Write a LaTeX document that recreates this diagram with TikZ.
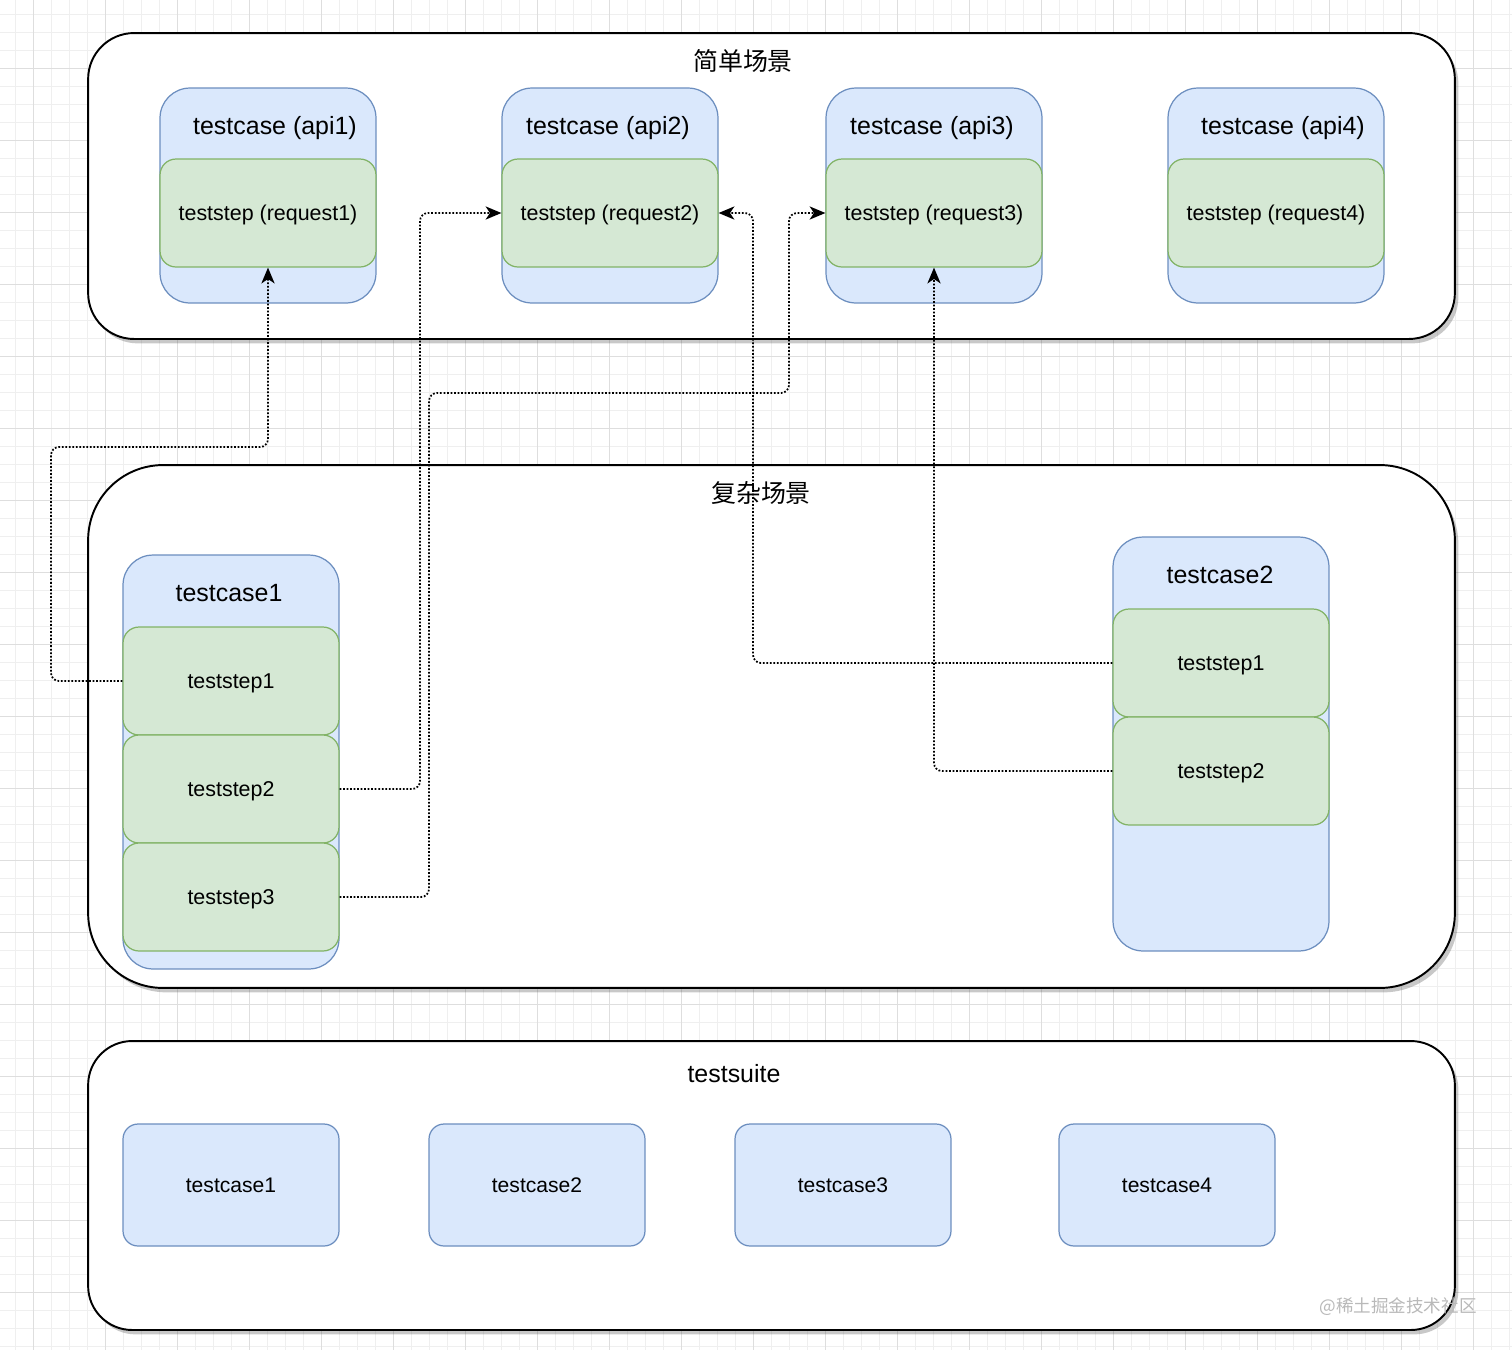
\documentclass[tikz,border=0pt]{standalone}
\usepackage{fontspec}
\setmainfont{Liberation Sans}
\newfontfamily\cjk{Noto Sans CJK SC}
\usetikzlibrary{arrows.meta,shadows}
\definecolor{bluefill}{HTML}{DAE8FC}
\definecolor{bluedraw}{HTML}{6C8EBF}
\definecolor{greenfill}{HTML}{D5E8D4}
\definecolor{greendraw}{HTML}{82B366}
\definecolor{gridminor}{HTML}{EFEFEF}
\definecolor{gridmajor}{HTML}{DEDEDE}
\begin{document}
\begin{tikzpicture}[x=0.02cm,y=-0.02cm,
  container/.style={draw=black, line width=1.1pt, fill=white, rectangle, inner sep=0pt,
    minimum width=27.34cm,
    drop shadow={shadow xshift=2pt, shadow yshift=-2.5pt, opacity=0.3, fill=black!70}},
  casebox/.style={draw=bluedraw, line width=0.7pt, fill=bluefill, rectangle, inner sep=0pt,
    minimum width=4.32cm, text depth=0pt},
  stepbox/.style={draw=greendraw, line width=0.7pt, fill=greenfill, rectangle,
    rounded corners=0.32cm, inner sep=0pt, minimum width=4.32cm, minimum height=2.16cm,
    font=\fontsize{12.2}{14}\selectfont, text depth=0pt},
  title/.style={font=\fontsize{14.2}{17}\selectfont, inner sep=0pt, text depth=0pt},
  cjktitle/.style={font=\cjk\fontsize{14.2}{17}\selectfont, inner sep=0pt},
  conn/.style={draw=black, line width=1pt, dash pattern=on 1pt off 1pt,
    rounded corners=0.16cm, -{Stealth[length=9pt,width=7.5pt,inset=2.5pt]}}
]
% background and grid
\fill[white, use as bounding box] (0,0) rectangle (1512,1350);
\foreach \k in {0,...,84} \draw[gridminor, line width=0.5pt] ({-3+18*\k},0) -- ({-3+18*\k},1350);
\foreach \k in {0,...,75} \draw[gridminor, line width=0.5pt] (0,{-3.7+18*\k}) -- (1512,{-3.7+18*\k});
\foreach \k in {0,...,20} \draw[gridmajor, line width=0.5pt] ({33+72*\k},0) -- ({33+72*\k},1350);
\foreach \k in {-1,...,17} \draw[gridmajor, line width=0.5pt] (0,{68.3+72*\k}) -- (1512,{68.3+72*\k});

% simple scenario
\node[container, rounded corners=0.92cm, minimum height=6.12cm] (simple) at (771.5,186) {};
\node[cjktitle] (simpleT) at (743,61) {简单场景};
\node[casebox, rounded corners=0.6cm, minimum height=4.3cm] (a1) at (268,195.5) {};
\node[title] (a1t) at (275,125) {testcase (api1)};
\node[stepbox] (r1) at (268,213) {teststep (request1)};
\node[casebox, rounded corners=0.6cm, minimum height=4.3cm] (a2) at (610,195.5) {};
\node[title] (a2t) at (608,125) {testcase (api2)};
\node[stepbox] (r2) at (610,213) {teststep (request2)};
\node[casebox, rounded corners=0.6cm, minimum height=4.3cm] (a3) at (934,195.5) {};
\node[title] (a3t) at (932,125) {testcase (api3)};
\node[stepbox] (r3) at (934,213) {teststep (request3)};
\node[casebox, rounded corners=0.6cm, minimum height=4.3cm] (a4) at (1276,195.5) {};
\node[title] (a4t) at (1283,125) {testcase (api4)};
\node[stepbox] (r4) at (1276,213) {teststep (request4)};

% complex scenario
\node[container, rounded corners=1.5cm, minimum height=10.46cm] (complex) at (771.5,726.5) {};
\node[cjktitle] (complexT) at (761,493) {复杂场景};
\node[casebox, rounded corners=0.6cm, minimum height=8.28cm] (tc1) at (231,762) {};
\node[title] (tc1t) at (229,593) {testcase1};
\node[stepbox] (c1s1) at (231,681) {teststep1};
\node[stepbox] (c1s2) at (231,789) {teststep2};
\node[stepbox] (c1s3) at (231,897) {teststep3};
\node[casebox, rounded corners=0.6cm, minimum height=8.28cm] (tc2) at (1221,744) {};
\node[title] (tc2t) at (1220,575) {testcase2};
\node[stepbox] (c2s1) at (1221,663) {teststep1};
\node[stepbox] (c2s2) at (1221,771) {teststep2};

% testsuite
\node[container, rounded corners=0.88cm, minimum height=5.78cm] (suite) at (771.5,1185.5) {};
\node[title] (suiteT) at (734,1073) {testsuite};
\node[casebox, rounded corners=0.3cm, minimum height=2.44cm, font=\fontsize{12}{14}\selectfont] (ts1) at (231,1185) {testcase1};
\node[casebox, rounded corners=0.3cm, minimum height=2.44cm, font=\fontsize{12}{14}\selectfont] (ts2) at (537,1185) {testcase2};
\node[casebox, rounded corners=0.3cm, minimum height=2.44cm, font=\fontsize{12}{14}\selectfont] (ts3) at (843,1185) {testcase3};
\node[casebox, rounded corners=0.3cm, minimum height=2.44cm, font=\fontsize{12}{14}\selectfont] (ts4) at (1167,1185) {testcase4};

% connectors
\draw[conn] (c1s1.west) -| (51,447) -| (r1.south);
\draw[conn] (c1s2.east) -| (420,213) -- (r2.west);
\draw[conn] (c1s3.east) -| (429,393) -| (789,213) -- (r3.west);
\draw[conn] (c2s1.west) -| (753,213) -- (r2.east);
\draw[conn] (c2s2.west) -| (r3.south);

% watermark
\node[text=gray!55, font=\cjk\fontsize{10}{12}\selectfont, inner sep=0pt] (wm) at (1398,1307) {@稀土掘金技术社区};
\end{tikzpicture}
\end{document}
